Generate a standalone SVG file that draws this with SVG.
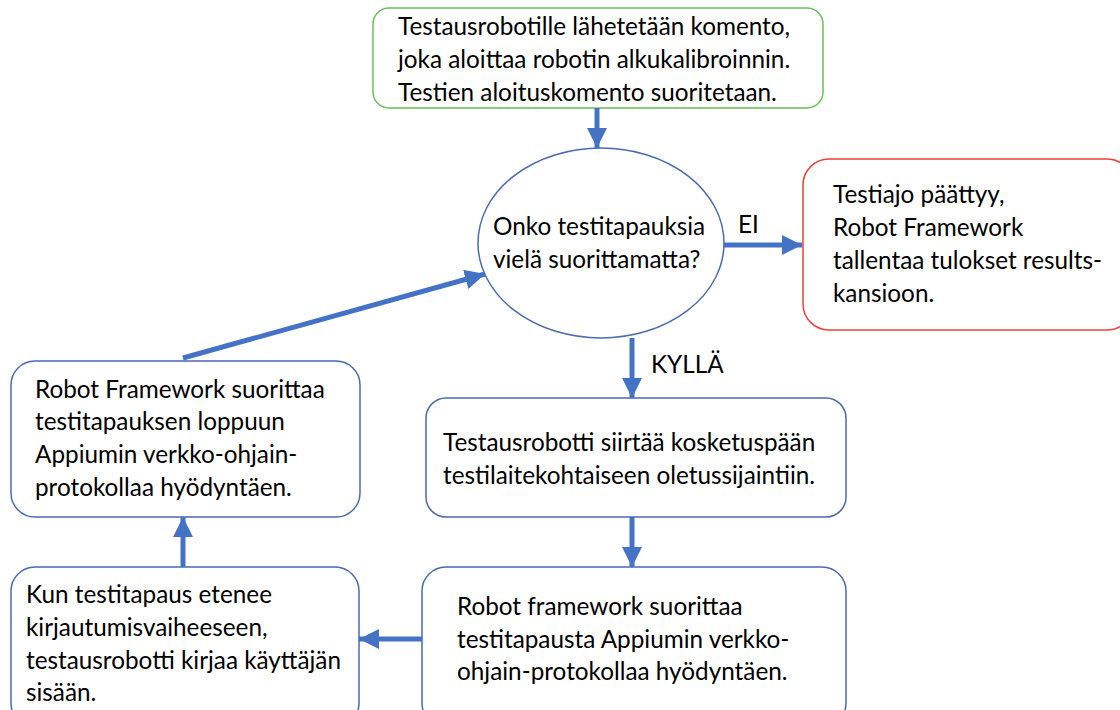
<svg xmlns="http://www.w3.org/2000/svg" width="1120" height="710" viewBox="0 0 1120 710">
<defs>
<marker id="ah" markerUnits="userSpaceOnUse" markerWidth="22" markerHeight="22" refX="20" refY="10" orient="auto">
<path d="M0,0 L20,10 L0,20 Z" fill="#4472C4"/>
</marker>
<style>
.box{fill:#fff;stroke:#4A6AAE;stroke-width:1.5}
.t{font-family:Lato,"Liberation Sans",sans-serif;font-size:24.3px;fill:#000}
.c{stroke:#4472C4;stroke-width:5;fill:none;marker-end:url(#ah)}
</style>
</defs>
<rect width="1120" height="710" fill="#fff"/>
<g id="start">
<rect x="373" y="8" width="450" height="100" rx="16" fill="#fff" stroke="#6BBF59" stroke-width="1.5"/>
<text class="t" x="398" y="35">Testausrobotille lähetetään komento,</text>
<text class="t" x="398" y="68">joka aloittaa robotin alkukalibroinnin.</text>
<text class="t" x="398" y="101">Testien aloituskomento suoritetaan.</text>
</g>
<g id="decision">
<ellipse cx="601" cy="243" rx="123" ry="95" class="box"/>
<text class="t" x="493" y="235">Onko testitapauksia</text>
<text class="t" x="493" y="268">vielä suorittamatta?</text>
</g>
<g id="end">
<rect x="803" y="159" width="330" height="171" rx="26" fill="#fff" stroke="#E8413C" stroke-width="1.5"/>
<text class="t" x="833" y="203">Testiajo päättyy,</text>
<text class="t" x="833" y="236">Robot Framework</text>
<text class="t" x="833" y="269">tallentaa tulokset results-</text>
<text class="t" x="833" y="302">kansioon.</text>
</g>
<g id="move">
<rect x="426" y="398" width="420" height="119" rx="20" class="box"/>
<text class="t" x="443" y="451">Testausrobotti siirtää kosketuspään</text>
<text class="t" x="443" y="484">testilaitekohtaiseen oletussijaintiin.</text>
</g>
<g id="run">
<rect x="422" y="567" width="424" height="160" rx="24" class="box"/>
<text class="t" x="457" y="615">Robot framework suorittaa</text>
<text class="t" x="457" y="648">testitapausta Appiumin verkko-</text>
<text class="t" x="457" y="680">ohjain-protokollaa hyödyntäen.</text>
</g>
<g id="login">
<rect x="11" y="567" width="348" height="160" rx="24" class="box"/>
<text class="t" x="26" y="603">Kun testitapaus etenee</text>
<text class="t" x="26" y="636">kirjautumisvaiheeseen,</text>
<text class="t" x="26" y="669">testausrobotti kirjaa käyttäjän</text>
<text class="t" x="26" y="701">sisään.</text>
</g>
<g id="finish">
<rect x="11" y="361" width="349" height="156" rx="24" class="box"/>
<text class="t" x="35" y="398">Robot Framework suorittaa</text>
<text class="t" x="35" y="430">testitapauksen loppuun</text>
<text class="t" x="35" y="463">Appiumin verkko-ohjain-</text>
<text class="t" x="35" y="496">protokollaa hyödyntäen.</text>
</g>
<g id="connectors">
<line class="c" x1="597" y1="108" x2="597" y2="148"/>
<line class="c" x1="724" y1="245" x2="802" y2="245"/>
<text class="t" x="738" y="233">EI</text>
<line class="c" x1="632" y1="338" x2="632" y2="398"/>
<text class="t" x="651" y="373">KYLLÄ</text>
<line class="c" x1="632" y1="517" x2="632" y2="567"/>
<line class="c" x1="422" y1="639" x2="359" y2="639"/>
<line class="c" x1="183" y1="567" x2="183" y2="517"/>
<line class="c" x1="183" y1="358" x2="485" y2="274"/>
</g>
</svg>
